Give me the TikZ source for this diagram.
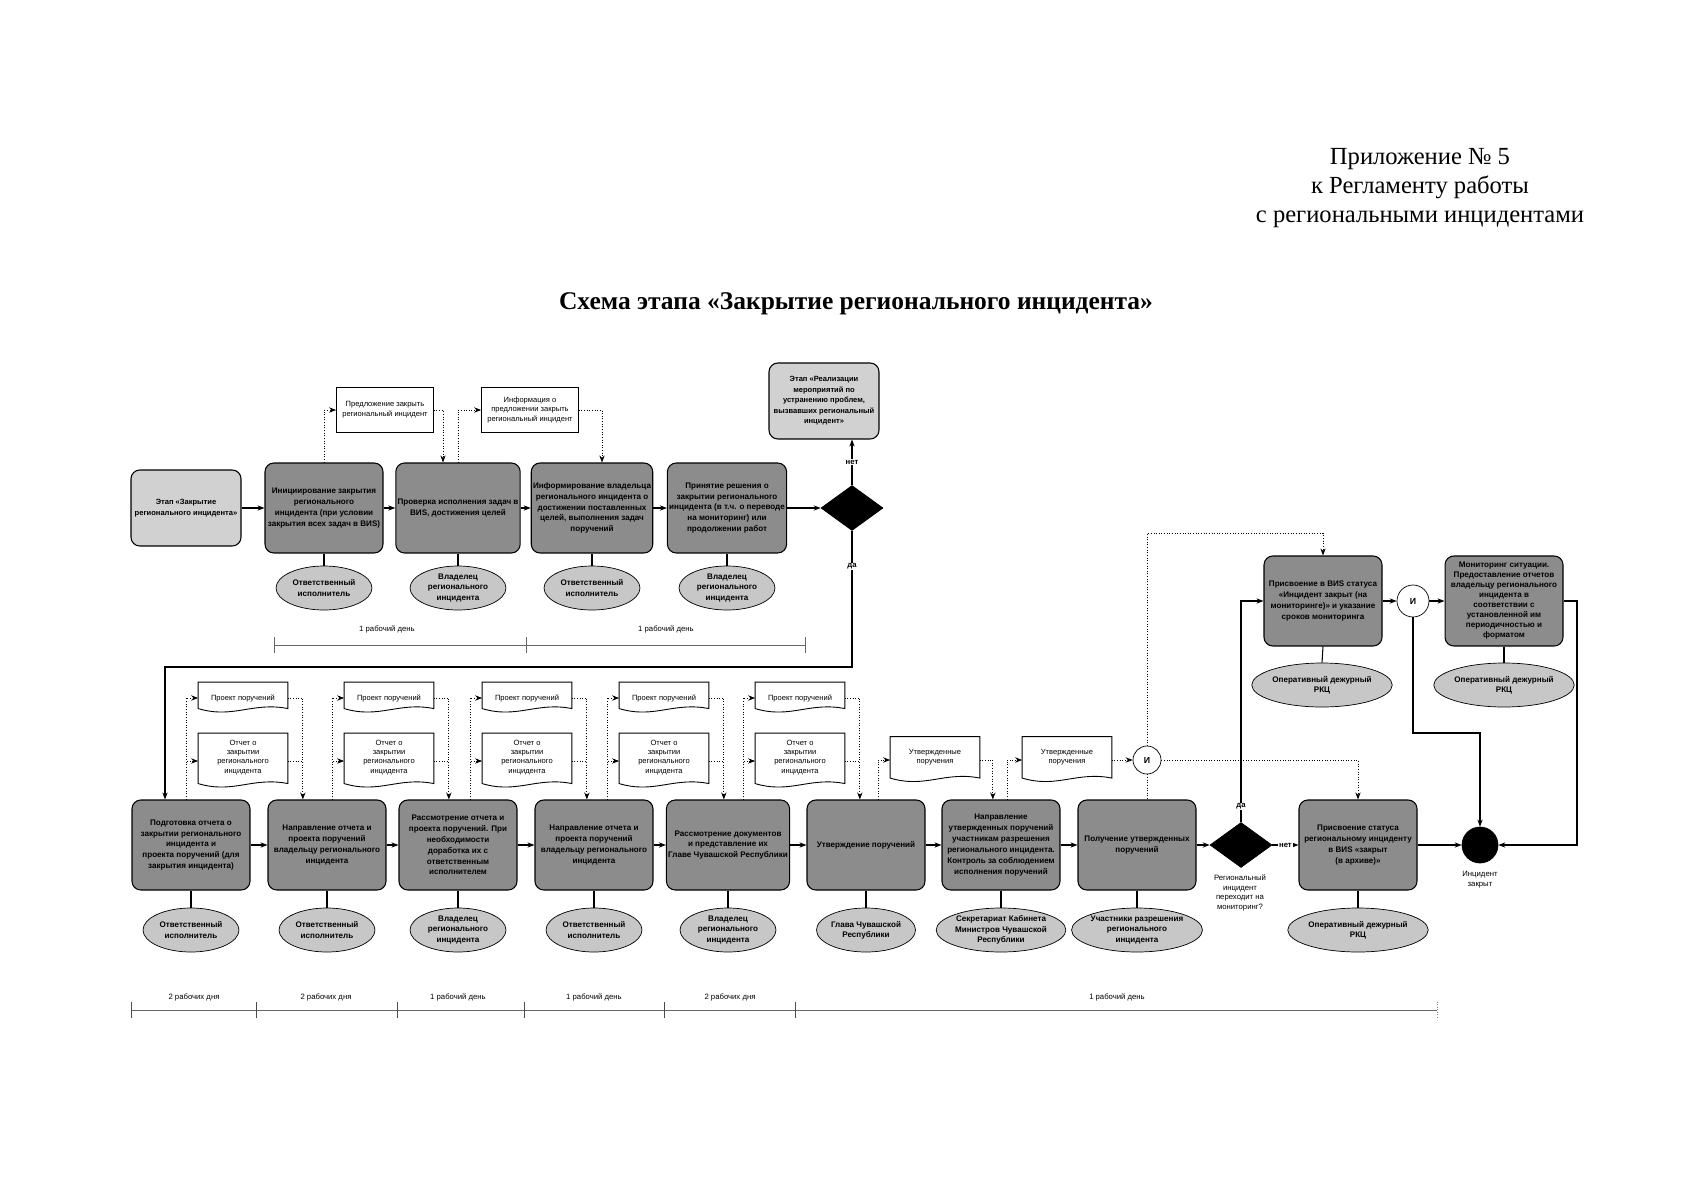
\documentclass[tikz,border=0pt]{standalone}
\usepackage{fontspec}
\setmainfont{Liberation Serif}
\setsansfont{Liberation Sans}
\usetikzlibrary{arrows.meta,calc,shapes.geometric}

\begin{document}
\begin{tikzpicture}[
  x=0.02cm, y=-0.02cm,
  font=\sffamily,
  >={Stealth[length=4pt,width=3pt]},
  heading/.style={font=\fontsize{14}{16.4}\selectfont\rmfamily, align=center},
  title/.style={font=\fontsize{14.5}{17}\selectfont\rmfamily\bfseries},
  task/.style={draw, line width=0.6pt, rounded corners=5pt, fill=black!45,
    minimum width=2.36cm, minimum height=1.8cm, align=center, inner sep=1pt,
    font=\fontsize{4.6}{6.2}\selectfont\sffamily\bfseries},
  stage/.style={task, fill=black!18, minimum width=2.2cm, minimum height=1.52cm,
    font=\fontsize{4.3}{6}\selectfont\sffamily\bfseries},
  role/.style={draw, ellipse, fill=black!22, minimum width=1.92cm, minimum height=0.88cm,
    inner sep=0pt, align=center, font=\fontsize{4.6}{5.8}\selectfont\sffamily\bfseries},
  note/.style={draw, fill=white, minimum width=1.94cm, minimum height=0.9cm, align=center,
    inner sep=1pt, font=\fontsize{4.3}{5.6}\selectfont\sffamily},
  doc/.style={minimum width=1.78cm, align=center, inner sep=1pt,
    font=\fontsize{4.3}{5.4}\selectfont\sffamily},
  gate/.style={draw, diamond, fill=black, minimum width=1.24cm, minimum height=0.9cm, inner sep=0pt},
  andgate/.style={draw, circle, fill=white, minimum size=0.56cm, inner sep=0pt,
    font=\fontsize{5}{6}\selectfont\sffamily\bfseries},
  lab/.style={font=\fontsize{4.4}{5.6}\selectfont\sffamily, align=center},
  yesno/.style={lab, fill=white, inner sep=0.5pt, font=\fontsize{4.4}{5}\selectfont\sffamily\bfseries},
  flow/.style={->, line width=0.6pt},
  info/.style={densely dotted, line width=0.5pt}
]
\useasboundingbox (0,0) rectangle (1684,1200);

% header
\node[heading] (hdr) at (1420,188) {Приложение № 5\\к Регламенту работы\\с региональными инцидентами};
\node[title] (ttl) at (856,304) {Схема этапа «Закрытие регионального инцидента»};

% upper row
\node[stage] (start) at (186,508) {Этап «Закрытие\\регионального инцидента»};
\node[task] (t1) at (324,508) {Инициирование закрытия\\регионального\\инцидента (при условии\\закрытия всех задач в ВИS)};
\node[task] (t2) at (458,508) {Проверка исполнения задач в\\ВИS, достижения целей};
\node[task] (t3) at (592,508) {Информирование владельца\\регионального инцидента о\\достижении поставленных\\целей, выполнения задач\\поручений};
\node[task] (t4) at (727,508) {Принятие решения о\\закрытии регионального\\инцидента (в т.ч. о переводе\\на мониторинг) или\\продолжении работ};
\node[gate] (g1) at (852,508) {};
\node[stage] (next) at (824,401) {Этап «Реализации\\мероприятий по\\устранению проблем,\\вызвавших региональный\\инцидент»};

\node[note] (n1) at (385,410) {Предложение закрыть\\региональный инцидент};
\node[note] (n2) at (530,410) {Информация о\\предложении закрыть\\региональный инцидент};

\node[role] (o1) at (324,588) {Ответственный\\исполнитель};
\node[role] (o2) at (458,588) {Владелец\\регионального\\инцидента};
\node[role] (o3) at (592,588) {Ответственный\\исполнитель};
\node[role] (o4) at (727,588) {Владелец\\регионального\\инцидента};

\draw[flow] (start) -- (t1);
\draw[flow] (t1) -- (t2);
\draw[flow] (t2) -- (t3);
\draw[flow] (t3) -- (t4);
\draw[flow] (t4) -- (g1);
\draw[flow] (g1.north) -- (g1.north |- next.south) node[yesno, midway] {нет};
\foreach \t/\o in {t1/o1,t2/o2,t3/o3,t4/o4}
  \draw[line width=0.6pt] (\t.south) -- (\o.north);

\draw[info,->] (t1.north) |- (n1.west);
\draw[info,->] (n1.east) -| ([xshift=-0.3cm]t2.north);
\draw[info,->] (t2.north) |- (n2.west);
\draw[info,->] (n2.east) -| ([xshift=0.2cm]t3.north);

% upper time scale
\draw[black!60, line width=0.4pt] (274,645) -- (805,645);
\foreach \x in {274,526,805}
  \draw[black!60, line width=0.4pt] (\x,637) -- (\x,653);
\node[lab] (d1) at (387,629) {1 рабочий день};
\node[lab] (d2) at (666,629) {1 рабочий день};

% lower row
\node[task] (b1) at (191,845) {Подготовка отчета о\\закрытии регионального\\инцидента и\\проекта поручений (для\\закрытия инцидента)};
\node[task] (b2) at (327,845) {Направление отчета и\\проекта поручений\\владельцу регионального\\инцидента};
\node[task] (b3) at (458,845) {Рассмотрение отчета и\\проекта поручений. При\\необходимости\\доработка их с\\ответственным\\исполнителем};
\node[task] (b4) at (594,845) {Направление отчета и\\проекта поручений\\владельцу регионального\\инцидента};
\node[task] (b5) at (728,845) {Рассмотрение документов\\и представление их\\Главе Чувашской Республики};
\node[task] (b6) at (866,845) {Утверждение поручений};
\node[task] (b7) at (1001,845) {Направление\\утвержденных поручений\\участникам разрешения\\регионального инцидента.\\Контроль за соблюдением\\исполнения поручений};
\node[task] (b8) at (1137,845) {Получение утвержденных\\поручений};
\node[gate] (g2) at (1241,845) {};
\node[lab] (g2q) at (1240,893) {Региональный\\инцидент\\переходит на\\мониторинг?};
\node[task] (b9) at (1358,845) {Присвоение статуса\\региональному инциденту\\в ВИS «закрыт\\(в архиве)»};
\node[circle, fill=black, draw, minimum size=0.72cm, inner sep=0pt] (endc) at (1480,845) {};
\node[lab] (endq) at (1480,880) {Инцидент\\закрыт};

\node[role] (e1) at (191,930) {Ответственный\\исполнитель};
\node[role] (e2) at (327,930) {Ответственный\\исполнитель};
\node[role] (e3) at (458,930) {Владелец\\регионального\\инцидента};
\node[role] (e4) at (594,930) {Ответственный\\исполнитель};
\node[role] (e5) at (728,930) {Владелец\\регионального\\инцидента};
\node[role] (e6) at (866,930) {Глава Чувашской\\Республики};
\node[role] (e7) at (1001,930) {Секретариат Кабинета\\Министров Чувашской\\Республики};
\node[role] (e8) at (1137,930) {Участники разрешения\\регионального\\инцидента};
\node[role] (e9) at (1358,930) {Оперативный дежурный\\РКЦ};
\foreach \t/\o in {b1/e1,b2/e2,b3/e3,b4/e4,b5/e5,b6/e6,b7/e7,b8/e8,b9/e9}
  \draw[line width=0.6pt] (\t.south) -- (\o.north);

% documents
\foreach \i/\x in {1/243,2/389,3/527,4/664,5/800} {
  \node[doc, minimum height=0.62cm] (p\i) at (\x,698) {Проект поручений};
  \node[doc, minimum height=1.1cm, text depth=5pt] (q\i) at (\x,761) {Отчет о\\закрытии\\регионального\\инцидента};
}
\node[doc, minimum height=0.92cm, text depth=4pt] (s6) at (935,760) {Утвержденные\\поручения};
\node[doc, minimum height=0.92cm, text depth=4pt] (s7) at (1067,760) {Утвержденные\\поручения};
\foreach \d in {p1,q1,p2,q2,p3,q3,p4,q4,p5,q5,s6,s7}
  \draw[line width=0.5pt] (\d.north west) -- (\d.north east) -- ([yshift=3pt]\d.south east)
    .. controls ([xshift=-0.7cm,yshift=7pt]\d.south east) and ([xshift=0.7cm,yshift=-3pt]\d.south west)
    .. ([yshift=3pt]\d.south west) -- cycle;

\foreach \i/\j in {1/2,2/3,3/4,4/5,5/6} {
  \coordinate (up\i) at ([xshift=-0.24cm]p\i.west);
  \coordinate (dn\i) at ([xshift=0.3cm]q\i.east);
  \draw[info,->] (b\i.north -| up\i) |- (p\i.west);
  \draw[info,->] (b\i.north -| up\i) |- (q\i.west);
  \draw[info,->] (p\i.east) -| (b\j.north -| dn\i);
  \draw[info] (q\i.east) -- (q\i.east -| dn\i);
}
\coordinate (up6) at ([xshift=-0.24cm]s6.west);
\coordinate (dn6) at ([xshift=0.26cm]s6.east);
\coordinate (up7) at ([xshift=-0.3cm]s7.west);
\draw[info,->] (b6.north -| up6) |- (s6.west);
\draw[info,->] (s6.east) -| (b7.north -| dn6);
\draw[info,->] (b7.north -| up7) |- (s7.west);

% and-branch
\node[andgate] (and1) at (1147,760) {И};
\draw[info,->] (s7.east) -- (and1.west);
\draw[info] (and1.south) -- (and1.south |- b8.north);

% monitoring branch
\node[task] (m1) at (1323,601) {Присвоение в ВИS статуса\\«Инцидент закрыт (на\\мониторинге)» и указание\\сроков мониторинга};
\node[andgate, minimum size=0.64cm] (and2) at (1413,601) {И};
\node[task, font=\fontsize{4.6}{5.7}\selectfont\sffamily\bfseries] (m2) at (1504,601) {Мониторинг ситуации.\\Предоставление отчетов\\владельцу регионального\\инцидента в\\соответствии с\\установленной им\\периодичностью и\\форматом};
\node[role] (f1) at (1322,685) {Оперативный дежурный\\РКЦ};
\node[role] (f2) at (1504,685) {Оперативный дежурный\\РКЦ};
\draw[line width=0.6pt] (m1.south) -- (f1.north);
\draw[line width=0.6pt] (m2.south) -- (f2.north);

\draw[info,->] (and1.north) |- ([yshift=0.44cm]m1.north) -- (m1.north);
\draw[info,->] (and1.east) -| (b9.north);

% lower flow
\coordinate (bend) at (165,667);
\draw[flow] (g1.south) |- node[yesno, pos=0.13] {да} (bend) -- (bend |- b1.north);
\foreach \a/\b in {b1/b2,b2/b3,b3/b4,b4/b5,b5/b6,b6/b7,b7/b8,b8/g2,b9/endc}
  \draw[flow] (\a) -- (\b);
\draw[flow] (g2.east) -- (b9.west) node[yesno, midway] {нет};
\draw[flow] (g2.north) |- node[yesno, pos=0.035] {да} (m1.west);
\draw[flow] (m1) -- (and2);
\draw[flow] (and2) -- (m2);
\coordinate (lowA) at (1480,733);
\coordinate (sideA) at (1577,845);
\draw[flow] (and2.south) |- (lowA) -- (endc.north);
\draw[flow] (m2.east) -| (sideA) -- (endc.east);

% lower time scale
\draw[black!60, line width=0.4pt] (131,1010) -- (1437,1010);
\foreach \x in {131,256,397,524,664,795}
  \draw[black!70, line width=0.5pt] (\x,1002) -- (\x,1018);
\draw[black!50, densely dotted] (1437,1002) -- (1437,1018);
\node[lab] (w1) at (194,997) {2 рабочих дня};
\node[lab] (w2) at (326,997) {2 рабочих дня};
\node[lab] (w3) at (458,997) {1 рабочий день};
\node[lab] (w4) at (594,997) {1 рабочий день};
\node[lab] (w5) at (730,997) {2 рабочих дня};
\node[lab] (w6) at (1117,997) {1 рабочий день};
\end{tikzpicture}
\end{document}
